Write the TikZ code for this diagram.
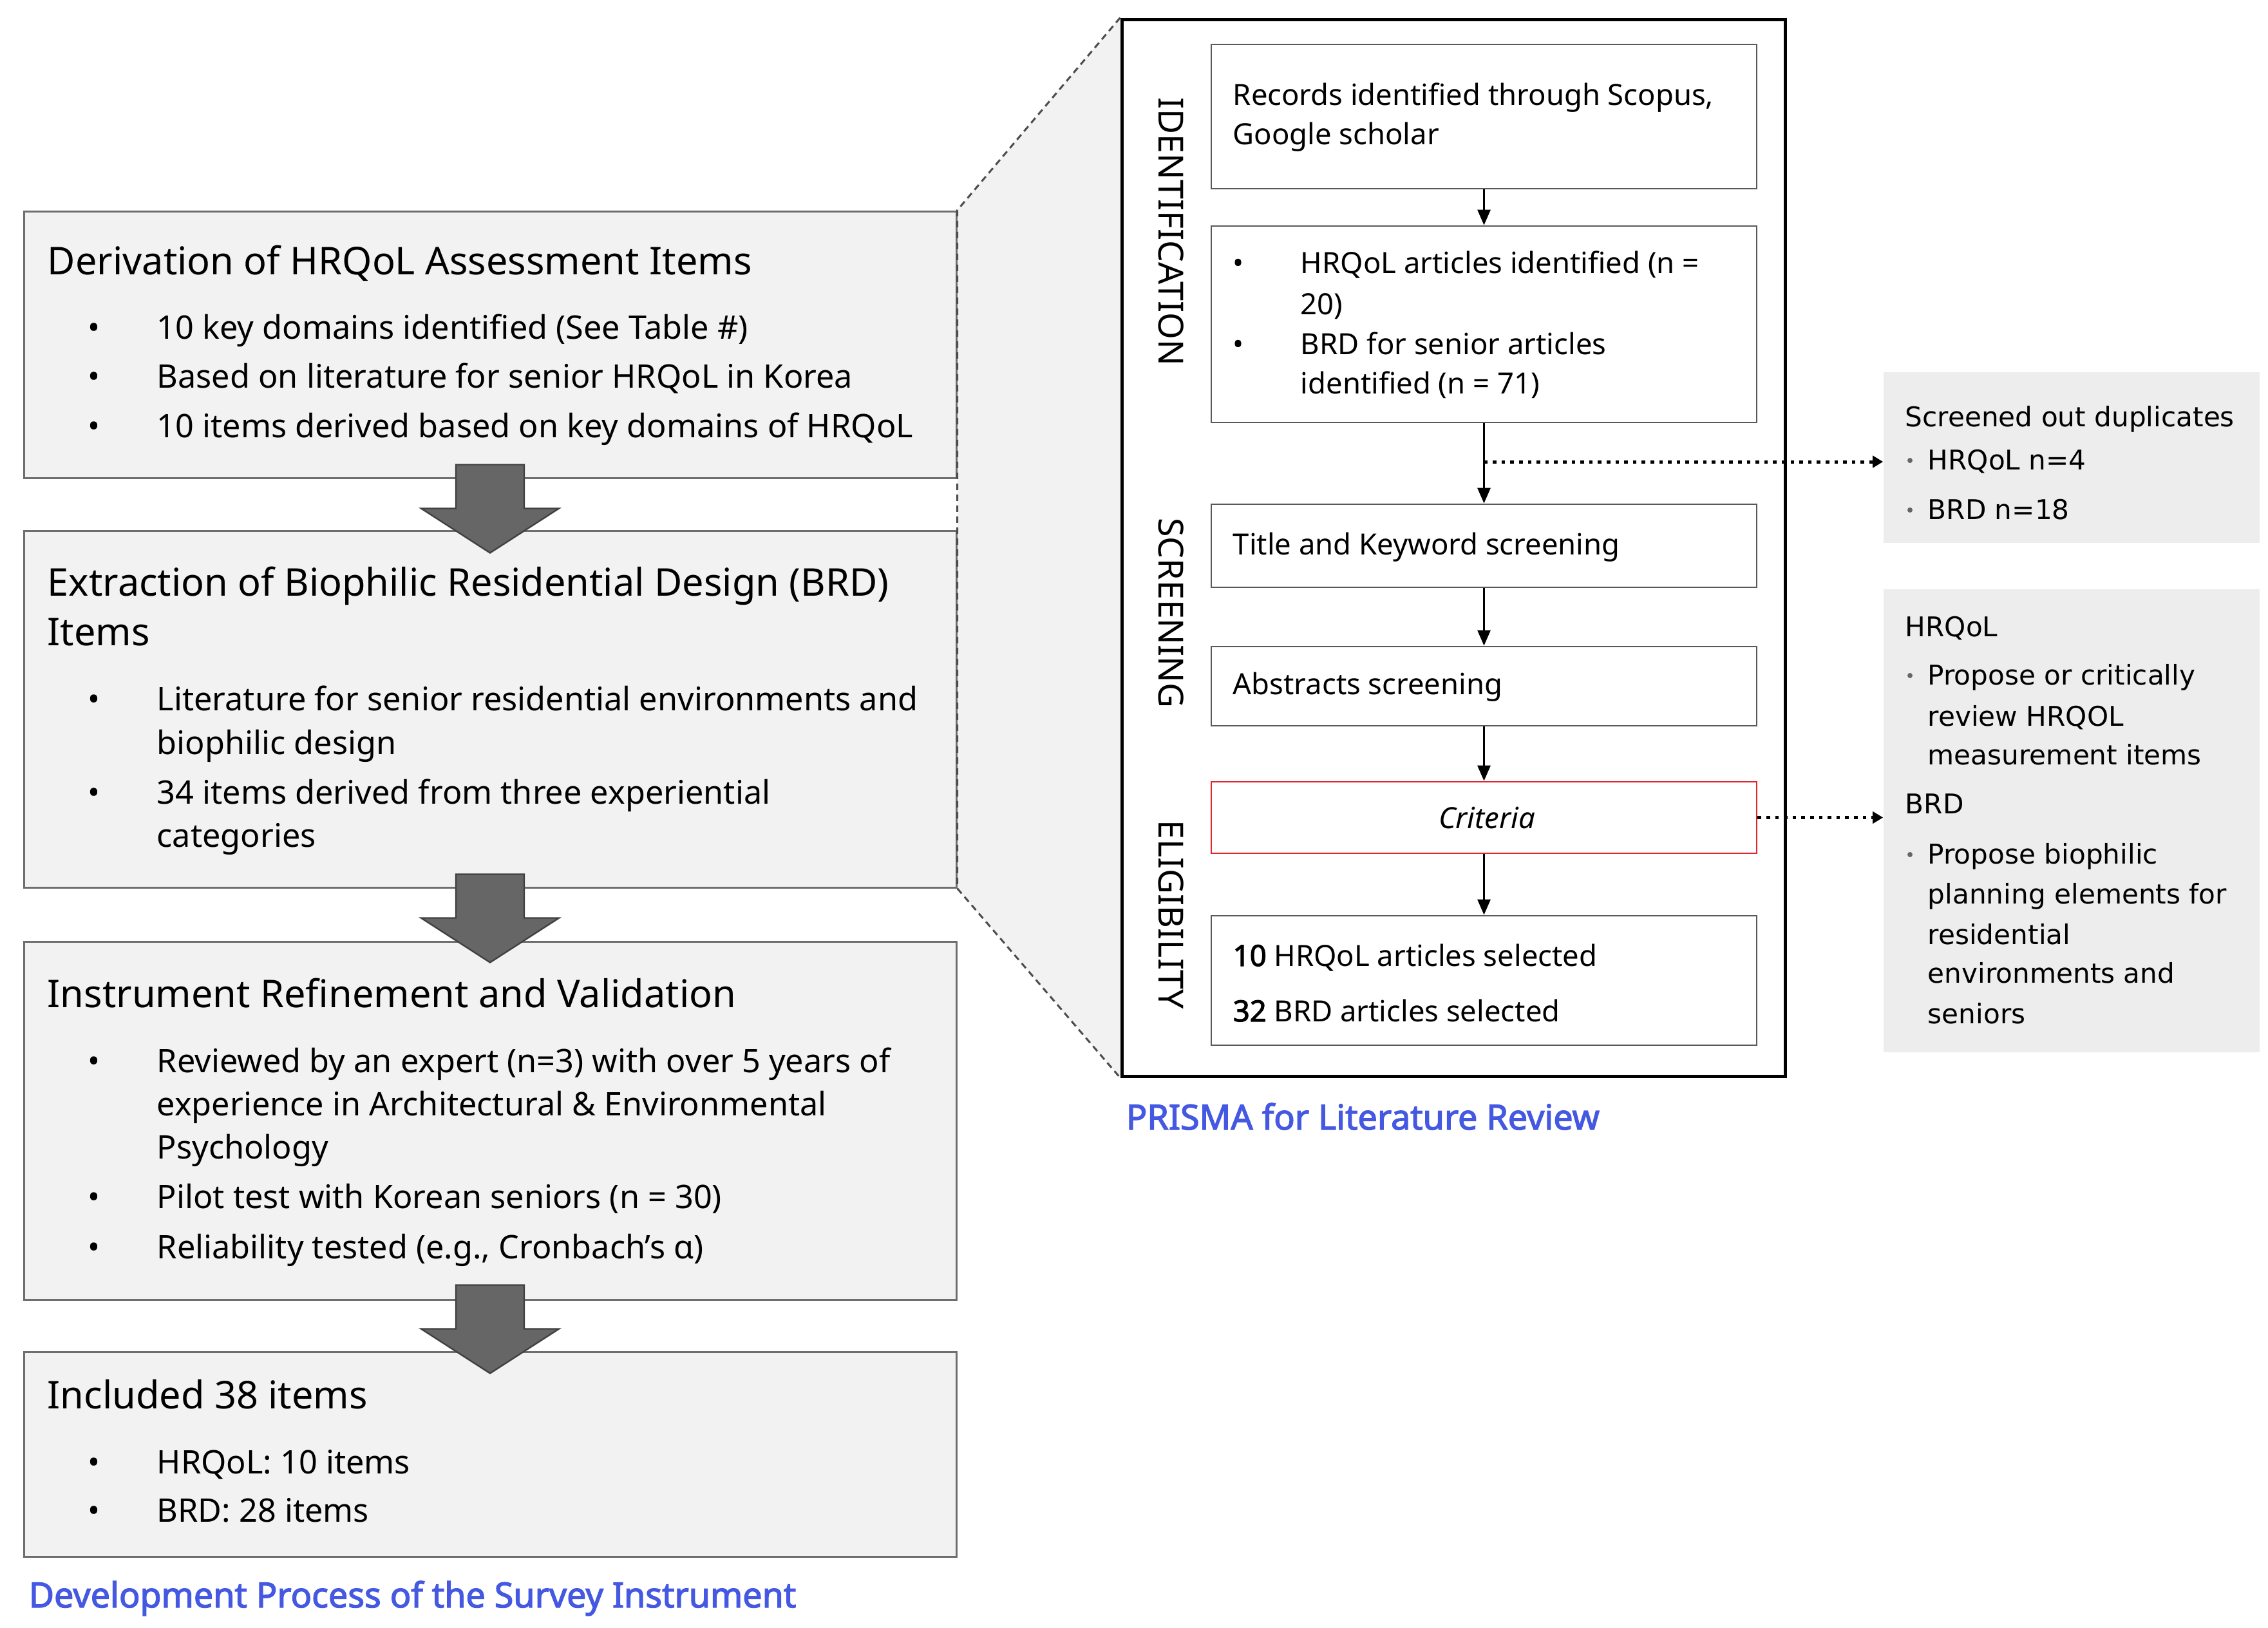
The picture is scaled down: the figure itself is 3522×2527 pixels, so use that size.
\documentclass[tikz,border=0pt]{standalone}
\usepackage{fontspec}
\setmainfont{Noto Sans}[AutoFakeBold=2.5]
\newfontfamily\notefont{DejaVu Sans}
\usetikzlibrary{calc,arrows.meta,backgrounds}

\definecolor{boxgray}{HTML}{F2F2F2}
\definecolor{notegray}{HTML}{EDEDED}
\definecolor{edgegray}{HTML}{6E6E6E}
\definecolor{arrowgray}{HTML}{666666}
\definecolor{capblue}{RGB}{68,88,226}
\definecolor{critred}{HTML}{E0262B}

\newcommand\titlefont{\fontsize{14.85pt}{18pt}\selectfont}
\newcommand\itemfont{\fontsize{12.6pt}{15pt}\selectfont}
\newcommand\prfont{\fontsize{11.35pt}{14pt}\selectfont}
\newcommand\phasefont{\fontsize{13.4pt}{15pt}\selectfont}
\newcommand\notesize{\notefont\fontsize{10.55pt}{13pt}\selectfont}
\newcommand\capfont{\bfseries\fontsize{13.45pt}{16pt}\selectfont}

\tikzset{
  blockarrow/.pic={
    \filldraw [fill=arrowgray, draw=black!75, line width=0.6pt]
      (-53,0) -- (53,0) -- (53,68) -- (107,68) -- (0,137)
      -- (-107,68) -- (-53,68) -- cycle;
  }
}

\begin{document}
\begin{tikzpicture}[x=0.25pt, y=-0.25pt,
    stage/.style={draw=edgegray, fill=boxgray, line width=0.75pt,
      minimum width=362pt, inner sep=0pt},
    prbox/.style={draw=black!65, line width=0.7pt,
      minimum width=211.75pt, inner sep=0pt},
    notebox/.style={fill=notegray, minimum width=146pt, inner sep=0pt},
    head/.style={anchor=base west, inner sep=0pt, font=\titlefont},
    item/.style={anchor=base west, inner sep=0pt, font=\itemfont},
    bul/.style={anchor=base, inner sep=0pt, font=\itemfont},
    prtext/.style={anchor=base west, inner sep=0pt, font=\prfont},
    phase/.style={rotate=-90, inner sep=0pt, font=\phasefont},
    note/.style={anchor=base west, inner sep=0pt, font=\notesize},
    caption/.style={anchor=base west, inner sep=0pt, font=\capfont,
      text=capblue},
    flow/.style={line width=0.75pt, -{Triangle[width=5pt,length=6pt]}},
    dotflow/.style={line width=1.25pt, dash pattern=on 1.4pt off 2pt,
      -{Triangle[width=4.5pt,length=4pt]}},
    zoomline/.style={draw=black!70, line width=0.75pt,
      dash pattern=on 2.5pt off 1.75pt}]
  \useasboundingbox (0,0) rectangle (3522,2527);

  % Development process (left column)
  \node [stage, minimum height=103.5pt] (deriv) at (761,535) {};
  \node [stage, minimum height=138.5pt] (extract) at (761,1101) {};
  \node [stage, minimum height=139pt] (refine) at (761,1740) {};
  \node [stage, minimum height=79.5pt] (incl) at (761,2258) {};

  \node [head] (hd1) at (73,426) {Derivation of HRQoL Assessment Items};
  \node [head] (hd2) at (73,925) {Extraction of Biophilic Residential Design (BRD)};
  \node [head] (hd2b) at (73,1002) {Items};
  \node [head] (hd3) at (73,1564) {Instrument Refinement and Validation};
  \node [head] (hd4) at (73,2187) {Included 38 items};

  \foreach \yy/\txt in {
      526/{10 key domains identified (See Table \#)},
      602/{Based on literature for senior HRQoL in Korea},
      679/{10 items derived based on key domains of HRQoL},
      1103/{Literature for senior residential environments and},
      1171/{biophilic design},
      1248/{34 items derived from three experiential},
      1315/{categories},
      1665/{Reviewed by an expert (n=3) with over 5 years of},
      1732/{experience in Architectural \& Environmental},
      1799/{Psychology},
      1876/{Pilot test with Korean seniors (n = 30)},
      1954/{Reliability tested (e.g., Cronbach’s α)},
      2288/{HRQoL: 10 items},
      2363/{BRD: 28 items}}
    \node [item] (it\yy) at (243,\yy) {\txt};
  \foreach \yy in {526,602,679,1103,1248,1665,1876,1954,2288,2363}
    \node [bul] (bu\yy) at (146,\yy) {•};

  \pic at ($(deriv.south)+(0,-22)$) {blockarrow};
  \pic at ($(extract.south)+(0,-22)$) {blockarrow};
  \pic at ($(refine.south)+(0,-24)$) {blockarrow};

  \node [caption] (devcap) at (44,2496)
    {Development Process of the Survey Instrument};

  % PRISMA panel
  \node [draw, line width=1.25pt, minimum width=257.5pt,
    minimum height=410.25pt, inner sep=0pt] (prisma) at (2257,850.5) {};
  \begin{scope}[on background layer]
    \fill [boxgray] (deriv.north east) -- (prisma.north west)
      -- (prisma.south west) -- (extract.south east) -- cycle;
  \end{scope}
  \draw [zoomline] (prisma.north west) -- (deriv.north east)
    -- (extract.south east) -- (prisma.south west);

  \node [prbox, minimum height=56pt] (rec) at (2304.5,181) {};
  \node [prbox, minimum height=76.25pt] (ident) at (2304.5,503.5) {};
  \node [prbox, minimum height=32.25pt] (screen) at (2304.5,847.5) {};
  \node [prbox, minimum height=30.75pt] (abstr) at (2304.5,1065.5) {};
  \node [prbox, draw=critred, minimum height=27.75pt] (crit) at (2304.5,1269.5) {};
  \node [prbox, minimum height=50.25pt] (sel) at (2304.5,1522.5) {};

  \node [prtext] (r1) at (1914,163) {Records identified through Scopus,};
  \node [prtext] (r2) at (1914,224) {Google scholar};
  \foreach \yy/\txt in {424/{HRQoL articles identified (n =}, 488/{20)},
      550/{BRD for senior articles}, 611/{identified (n = 71)}}
    \node [prtext] (id\yy) at (2019,\yy) {\txt};
  \foreach \yy in {424,550}
    \node [prtext, anchor=base] (idb\yy) at (1923,\yy) {•};
  \node [prtext] (s1) at (1914,861) {Title and Keyword screening};
  \node [prtext] (a1) at (1914,1078) {Abstracts screening};
  \node [prtext, anchor=base] (c1) at (2309,1286) {\itshape Criteria};
  \node [prtext] (e1) at (1914,1500) {\textbf{10} HRQoL articles selected};
  \node [prtext] (e2) at (1914,1586) {\textbf{32} BRD articles selected};

  \node [phase] (ph1) at (1819,360) {IDENTIFICATION};
  \node [phase] (ph2) at (1819,952) {SCREENING};
  \node [phase] (ph3) at (1819,1420) {ELIGIBILITY};

  \draw [flow] (rec) -- (ident);
  \draw [flow] (ident) -- (screen);
  \draw [flow] (screen) -- (abstr);
  \draw [flow] (abstr) -- (crit);
  \draw [flow] (crit) -- (sel);
  \coordinate (dup) at ($(ident.south)!0.48!(screen.north)$);

  \node [caption] (prcap) at (1748,1754) {PRISMA for Literature Review};

  % Side notes
  \node [notebox, minimum height=66.25pt] (side1) at (3217,710.5) {};
  \node [notebox, minimum height=179.75pt] (side2) at (3217,1274.5) {};
  \draw [dotflow] (dup) -- (dup -| side1.west);
  \draw [dotflow] (crit.east) -- (crit.east -| side2.west);

  \node [note] (n1) at (2958,662) {Screened out duplicates};
  \node [note] (n4) at (2958,988) {HRQoL};
  \node [note] (n8) at (2958,1263) {BRD};
  \foreach \yy/\txt in {729/{HRQoL n=4}, 806/{BRD n=18},
      1063/{Propose or critically}, 1127/{review HRQOL},
      1187/{measurement items}, 1341/{Propose biophilic},
      1403/{planning elements for}, 1466/{residential},
      1526/{environments and}, 1589/{seniors}}
    \node [note] (nt\yy) at (2993,\yy) {\txt};
  \foreach \yy in {729,806,1063,1341}
    \fill [black!60] (2966,\yy-14) circle (1pt);
\end{tikzpicture}
\end{document}
